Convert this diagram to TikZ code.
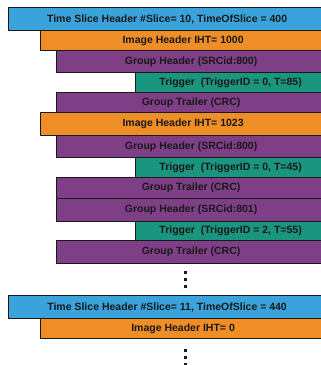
\documentclass[tikz,border=0pt]{standalone}
\usepackage{fontspec}
\setmainfont{Liberation Sans}
\definecolor{slicebl}{HTML}{3AA3DB}
\definecolor{imageor}{HTML}{EF8E27}
\definecolor{grouppu}{HTML}{7E3F86}
\definecolor{trigte}{HTML}{1B967E}

\begin{document}
\begin{tikzpicture}[x=1pt,y=-1pt]
        \tikzset{field/.style={draw=black!90, line width=1.2pt, anchor=north west,
                inner sep=0pt, font=\bfseries\fontsize{10.5}{12}\selectfont, text=black!90},
            slice/.style={field, fill=slicebl, minimum width=317pt},
            image/.style={field, fill=imageor, minimum width=285pt},
            group/.style={field, fill=grouppu, minimum width=269pt},
            trig/.style={field, fill=trigte, minimum width=190pt}}

        \clip (0,0) rectangle (321,365);

        % first time slice
        \node[slice, minimum height=23pt] (slice1) at (8,7) {Time Slice Header \#Slice= 10, TimeOfSlice = 400};
        \node[image, minimum height=20pt] (img1) at (40,30) {Image Header IHT= 1000};
        \node[group, minimum height=22pt] (gh1) at (56,50) {Group Header (SRCid:800)};
        \node[trig, minimum height=20pt] (trg1) at (135,72) {Trigger\ \ (TriggerID = 0, T=85)};
        \node[group, minimum height=20pt] (gt1) at (56,92) {Group Trailer (CRC)};
        \node[image, minimum height=23pt] (img2) at (40,112) {Image Header IHT= 1023};
        \node[group, minimum height=22pt] (gh2) at (56,135) {Group Header (SRCid:800)};
        \node[trig, minimum height=20pt] (trg2) at (135,157) {Trigger\ \ (TriggerID = 0, T=45)};
        \node[group, minimum height=21pt] (gt2) at (56,177) {Group Trailer (CRC)};
        \node[group, minimum height=23pt] (gh3) at (56,198) {Group Header (SRCid:801)};
        \node[trig, minimum height=19pt] (trg3) at (135,221) {Trigger\ \ (TriggerID = 2, T=55)};
        \node[group, minimum height=23pt] (gt3) at (56,240) {Group Trailer (CRC)};

        \foreach \y in {272,279,286}
            \fill[black!90] (183.5,\y-1.5) rectangle ++(3,3);

        % next time slice
        \node[slice, minimum height=23pt] (slice2) at (8,295) {Time Slice Header \#Slice= 11, TimeOfSlice = 440};
        \node[image, minimum height=20pt] (img3) at (40,318) {Image Header IHT= 0};

        \foreach \y in {350,357,364}
            \fill[black!90] (183.5,\y-1.5) rectangle ++(3,3);
    \end{tikzpicture}
\end{document}
